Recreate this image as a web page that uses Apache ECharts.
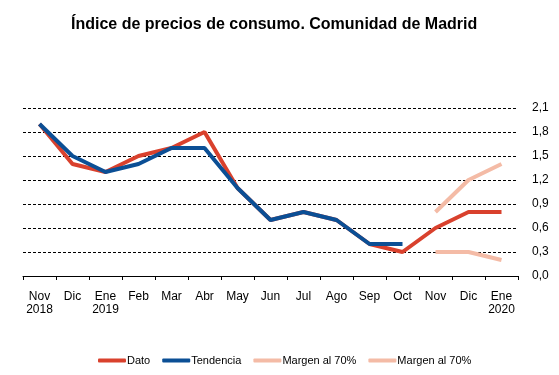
<!DOCTYPE html>
<html>
<head>
<meta charset="utf-8">
<script src="https://cdn.jsdelivr.net/npm/echarts@6/dist/echarts.min.js"></script>
<style>
    html, body { margin: 0; padding: 0; background: #fff; }
    #chart { width: 559px; height: 375px; }
</style>
</head>
<body>
<div id="chart"></div>
<script>
    var months = ['Nov\n2018', 'Dic', 'Ene\n2019', 'Feb', 'Mar', 'Abr', 'May', 'Jun',
        'Jul', 'Ago', 'Sep', 'Oct', 'Nov', 'Dic', 'Ene\n2020'];
    var dato = [1.9, 1.4, 1.3, 1.5, 1.6, 1.8, 1.1, 0.7, 0.8, 0.7, 0.4, 0.3, 0.6, 0.8, 0.8];
    var tendencia = [1.9, 1.5, 1.3, 1.4, 1.6, 1.6, 1.1, 0.7, 0.8, 0.7, 0.4, 0.4, null, null, null];
    var margenSup = [null, null, null, null, null, null, null, null, null, null, null, null, 0.8, 1.2, 1.4];
    var margenInf = [null, null, null, null, null, null, null, null, null, null, null, null, 0.3, 0.3, 0.2];
    var legendNames = {dato: 'Dato', tend: 'Tendencia', sup: 'Margen al 70%', inf: 'Margen al 70%'};

    var chart = echarts.init(document.getElementById('chart'));

    function line(id, data, color) {
        return {
            id: id,
            name: id,
            type: 'line',
            data: data,
            symbol: 'none',
            itemStyle: {color: color},
            lineStyle: {color: color, width: 4},
            connectNulls: false,
            animation: false
        };
    }

    chart.setOption({
        backgroundColor: '#fff',
        textStyle: {fontFamily: 'Liberation Sans, Arial, sans-serif'},
        title: {
            text: 'Índice de precios de consumo. Comunidad de Madrid',
            left: 66,
            top: 12,
            textStyle: {fontSize: 16, fontWeight: 'bold', color: '#000'}
        },
        legend: {
            data: ['dato', 'tend', 'sup', 'inf'],
            formatter: function (name) {
                return legendNames[name];
            },
            left: 93,
            top: 350,
            icon: 'roundRect',
            itemWidth: 28,
            itemHeight: 4,
            itemGap: 12,
            textStyle: {fontSize: 11, color: '#000', padding: [0, 0, 0, -4]}
        },
        grid: {
            left: 23,
            right: 41,
            top: 108,
            bottom: 99
        },
        xAxis: {
            type: 'category',
            data: months,
            boundaryGap: true,
            axisLine: {lineStyle: {color: '#000', width: 1}},
            axisTick: {show: true, length: 4, lineStyle: {color: '#000'}},
            axisLabel: {color: '#000', fontSize: 12, lineHeight: 13, margin: 14, interval: 0}
        },
        yAxis: {
            type: 'value',
            position: 'right',
            min: 0,
            max: 2.1,
            interval: 0.3,
            axisLine: {show: false},
            axisTick: {show: false},
            axisLabel: {
                color: '#000',
                fontSize: 12,
                margin: 14,
                formatter: function (v) {
                    return v.toFixed(1).replace('.', ',');
                }
            },
            splitLine: {lineStyle: {color: '#000', width: 1, type: [3, 2]}}
        },
        series: [
            line('dato', dato, '#d9412d'),
            line('tend', tendencia, '#0b4f95'),
            line('sup', margenSup, '#f4bba6'),
            line('inf', margenInf, '#f4bba6')
        ]
    });
</script>
</body>
</html>
